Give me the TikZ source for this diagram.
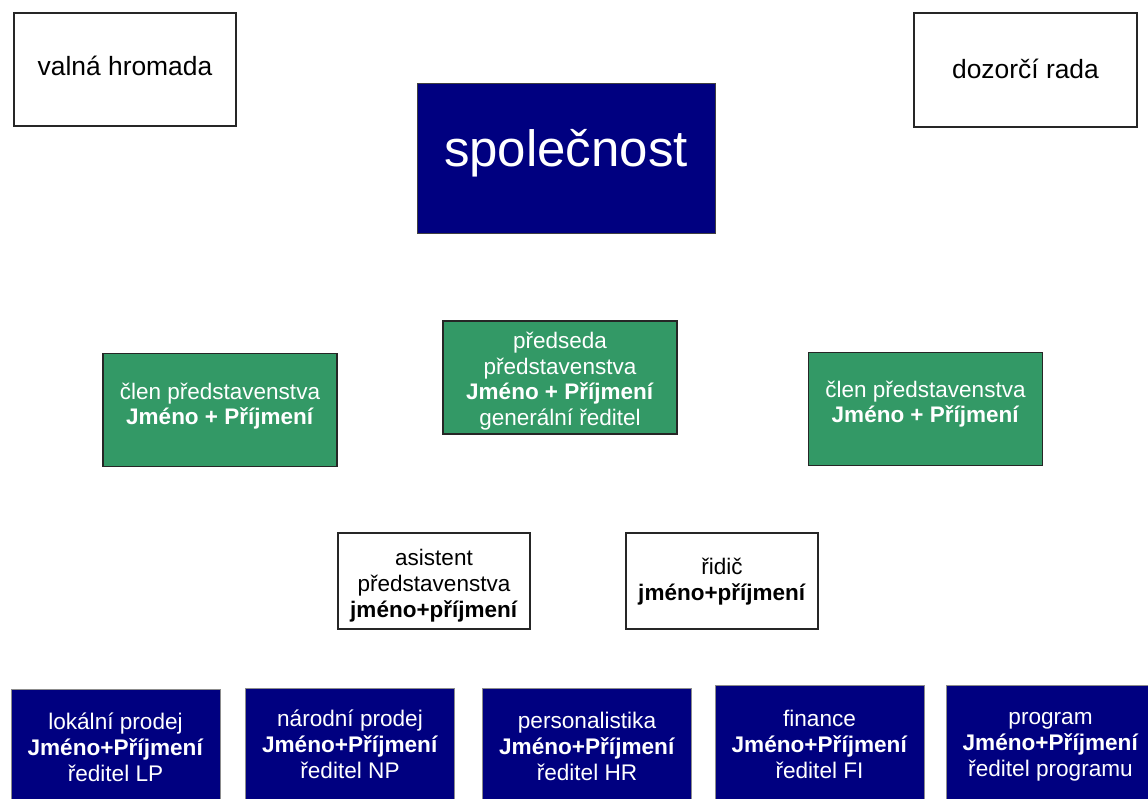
\documentclass[tikz,border=0pt]{standalone}
\usepackage{fontspec}
\setmainfont{Liberation Sans}
\definecolor{navyfill}{HTML}{000080}
\definecolor{boardgreen}{HTML}{339966}
\begin{document}
\begin{tikzpicture}[x=1pt,y=-1pt,
  basebox/.style={rectangle, inner sep=0pt},
  whitebox/.style={basebox, draw=black!85, line width=1.3pt, fill=white},
  greenbox/.style={basebox, draw=black!85, line width=1.3pt, fill=boardgreen,
    minimum width=234, minimum height=113},
  navybox/.style={basebox, draw=black!75, line width=1pt, fill=navyfill},
  deptbox/.style={navybox, draw=black!45, minimum width=209, minimum height=116},
  staffbox/.style={whitebox, minimum width=192, minimum height=96},
  label/.style={inner sep=0pt, align=center},
  bigblack/.style={label, text=black, font=\fontsize{26.4}{30}\selectfont},
  boardtext/.style={label, text=white, font=\fontsize{22.5}{25.6}\selectfont},
  stafftext/.style={label, text=black, font=\fontsize{22.5}{26}\selectfont},
  depttext/.style={label, text=white, font=\fontsize{22.6}{26}\selectfont}]
\useasboundingbox (0,0) rectangle (1148,798);
\clip (0,0) rectangle (1148,798);

% supervisory bodies
\node[whitebox, minimum width=222, minimum height=113] (vh) at (125,69.5) {};
\node[bigblack] (vh-t) at ([yshift=4pt]vh.center) {valná hromada};
\node[whitebox, minimum width=223, minimum height=114] (dr) at (1025.5,70) {};
\node[bigblack] (dr-t) at ([yshift=1pt]dr.center) {dozorčí rada};

% the company
\node[navybox, minimum width=298, minimum height=150] (spol) at (566,158) {};
\node[label, text=white, font=\fontsize{51}{56}\selectfont] (spol-t)
  at ([yshift=5pt]spol.center) {společnost};

% board of directors
\node[greenbox] (clenL) at (220,410) {};
\node[boardtext] (clenL-t) at ([yshift=4pt]clenL.center)
  {člen představenstva\\\textbf{Jméno + Příjmení}};
\node[greenbox] (predseda) at (560,377.5) {};
\node[boardtext] (predseda-t) at ([yshift=-3.5pt]predseda.center)
  {předseda\\představenstva\\\textbf{Jméno + Příjmení}\\generální ředitel};
\node[greenbox] (clenR) at (925.5,409) {};
\node[boardtext] (clenR-t) at ([yshift=5pt]clenR.center)
  {člen představenstva\\\textbf{Jméno + Příjmení}};

% board staff
\node[staffbox] (asist) at (434,581) {};
\node[stafftext] (asist-t) at ([yshift=-4.5pt]asist.center)
  {asistent\\představenstva\\\textbf{jméno+příjmení}};
\node[staffbox] (ridic) at (722,581) {};
\node[stafftext] (ridic-t) at ([yshift=-0.5pt]ridic.center)
  {řidič\\\textbf{jméno+příjmení}};

% departments
\node[deptbox] (lp) at (115.5,747) {};
\node[depttext] (lp-t) at (lp.center) {lokální prodej\\\textbf{Jméno+Příjmení}\\ředitel LP};
\node[deptbox] (np) at (350,746) {};
\node[depttext] (np-t) at ([yshift=1.5pt]np.center) {národní prodej\\\textbf{Jméno+Příjmení}\\ředitel NP};
\node[deptbox] (hr) at (587,746) {};
\node[depttext] (hr-t) at (hr.center) {personalistika\\\textbf{Jméno+Příjmení}\\ředitel HR};
\node[deptbox] (fi) at (819.5,743) {};
\node[depttext] (fi-t) at ([yshift=-1pt]fi.center) {finance\\\textbf{Jméno+Příjmení}\\ředitel FI};
\node[deptbox] (prog) at (1050.5,743) {};
\node[depttext] (prog-t) at ([yshift=-4pt]prog.center) {program\\\textbf{Jméno+Příjmení}\\ředitel programu};
\end{tikzpicture}
\end{document}
